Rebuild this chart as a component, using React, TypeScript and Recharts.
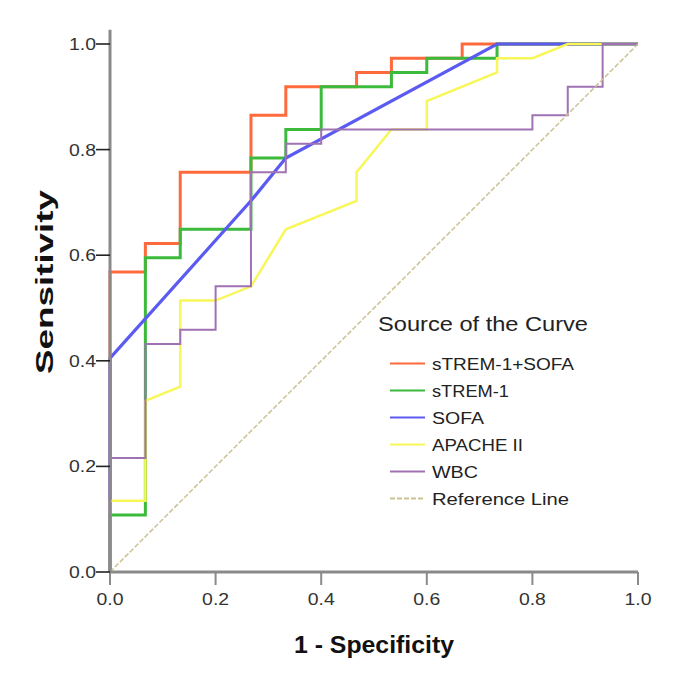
import React from "react";
import { LineChart, Line, XAxis, YAxis, Legend } from "recharts";

const FONT = "'Liberation Sans', Arial, sans-serif";

const TICKS = [0, 0.2, 0.4, 0.6, 0.8, 1.0];

// ROC points (1 - specificity, sensitivity)
const stremSofaFpr = [0, 0, 0.067, 0.067, 0.133, 0.133, 0.267, 0.267, 0.333, 0.333, 0.467, 0.467, 0.533, 0.533, 0.667, 0.667, 1.0];
const stremSofaSens = [0, 0.568, 0.568, 0.622, 0.622, 0.757, 0.757, 0.865, 0.865, 0.919, 0.919, 0.946, 0.946, 0.973, 0.973, 1.0, 1.0];

const stremFpr = [0, 0, 0.067, 0.067, 0.133, 0.133, 0.267, 0.267, 0.333, 0.333, 0.4, 0.4, 0.533, 0.533, 0.6, 0.6, 0.733, 0.733, 1.0];
const stremSens = [0, 0.108, 0.108, 0.595, 0.595, 0.649, 0.649, 0.784, 0.784, 0.838, 0.838, 0.919, 0.919, 0.946, 0.946, 0.973, 0.973, 1.0, 1.0];

const sofaFpr = [0, 0, 0.267, 0.333, 0.733, 1.0];
const sofaSens = [0, 0.405, 0.703, 0.784, 1.0, 1.0];

const apacheFpr = [0, 0, 0.067, 0.067, 0.133, 0.133, 0.2, 0.267, 0.333, 0.467, 0.467, 0.533, 0.6, 0.6, 0.733, 0.733, 0.8, 0.867, 1.0];
const apacheSens = [0, 0.135, 0.135, 0.324, 0.351, 0.514, 0.514, 0.541, 0.649, 0.703, 0.757, 0.838, 0.838, 0.892, 0.946, 0.973, 0.973, 1.0, 1.0];

const wbcFpr = [0, 0, 0.067, 0.067, 0.133, 0.133, 0.2, 0.2, 0.267, 0.267, 0.333, 0.333, 0.4, 0.4, 0.8, 0.8, 0.867, 0.867, 0.933, 0.933, 1.0];
const wbcSens = [0, 0.216, 0.216, 0.432, 0.432, 0.459, 0.459, 0.541, 0.541, 0.757, 0.757, 0.811, 0.811, 0.838, 0.838, 0.865, 0.865, 0.919, 0.919, 1.0, 1.0];

const refFpr = [0, 1];
const refSens = [0, 1];

const toPoints = (xs: number[], ys: number[]) => xs.map((x, i) => ({ fpr: x, sens: ys[i] }));

const SERIES = [
  { name: "sTREM-1+SOFA", data: toPoints(stremSofaFpr, stremSofaSens), color: "#ff6a3d", width: 3, dash: undefined },
  { name: "sTREM-1", data: toPoints(stremFpr, stremSens), color: "#3cba3c", width: 3, dash: undefined },
  { name: "SOFA", data: toPoints(sofaFpr, sofaSens), color: "#5b5bf2", width: 3.2, dash: undefined },
  { name: "APACHE II", data: toPoints(apacheFpr, apacheSens), color: "#f7f75a", width: 2.5, dash: undefined },
  { name: "WBC", data: toPoints(wbcFpr, wbcSens), color: "#a072b4", width: 2, dash: undefined },
  { name: "Reference Line", data: toPoints(refFpr, refSens), color: "#cbc192", width: 1.5, dash: "5 2" },
];

// measured text widths of the legend entries
const LEGEND_WIDTH: Record<string, number> = {
  "sTREM-1+SOFA": 142,
  "sTREM-1": 77,
  SOFA: 52,
  "APACHE II": 91,
  WBC: 46,
  "Reference Line": 137,
};

const XTick = (props: any) => {
  const { x, y, payload } = props;
  return (
    <text x={x} y={y + 18} textAnchor="middle" fontSize={16} fontFamily={FONT} fill="#333"
      textLength={27} lengthAdjust="spacingAndGlyphs">
      {Number(payload.value).toFixed(1)}
    </text>
  );
};

const YTick = (props: any) => {
  const { x, y, payload } = props;
  return (
    <text x={x} y={y + 6} textAnchor="end" fontSize={16} fontFamily={FONT} fill="#333"
      textLength={27} lengthAdjust="spacingAndGlyphs">
      {Number(payload.value).toFixed(1)}
    </text>
  );
};

const renderLegend = (props: any) => {
  const payload: any[] = props.payload || [];
  const items = SERIES.map((s) => {
    const p = payload.find((e) => e.value === s.name);
    return { name: s.name, color: p?.color ?? s.color, dash: s.dash };
  });
  return (
    <svg width={270} height={215} style={{ display: "block" }}>
      <text x={10} y={33} fontSize={21} fontFamily={FONT} fill="#222" textLength={210} lengthAdjust="spacingAndGlyphs">
        Source of the Curve
      </text>
      {items.map((it, i) => {
        const cy = 65.5 + i * 27;
        return (
          <g key={it.name}>
            <line x1={22} x2={57} y1={cy} y2={cy} stroke={it.color} strokeWidth={2} strokeDasharray={it.dash} />
            <text x={64} y={cy + 6} fontSize={16} fontFamily={FONT} fill="#222"
              textLength={LEGEND_WIDTH[it.name]} lengthAdjust="spacingAndGlyphs">
              {it.name}
            </text>
          </g>
        );
      })}
    </svg>
  );
};

export default function App() {
  return (
    <div style={{ width: 669, height: 669, background: "#fff" }}>
      <LineChart width={669} height={669} margin={{ top: 21.74, right: 39, bottom: 75, left: 42 }}>
        <XAxis
          dataKey="fpr"
          type="number"
          domain={[0, 1]}
          ticks={TICKS}
          height={30}
          tickSize={13}
          tickMargin={2}
          axisLine={{ stroke: "#8a8a8a", strokeWidth: 3 }}
          tickLine={{ stroke: "#8a8a8a", strokeWidth: 2 }}
          tick={<XTick />}
          label={{
            content: (p: any) => {
              const vb = p.viewBox;
              return (
                <text x={vb.x + vb.width / 2} y={vb.y + 81} textAnchor="middle" fontSize={24} fontWeight="bold"
                  fontFamily={FONT} fill="#111" textLength={160} lengthAdjust="spacingAndGlyphs">
                  1 - Specificity
                </text>
              );
            },
          }}
        />
        <YAxis
          dataKey="sens"
          type="number"
          domain={[0, 1.027]}
          ticks={TICKS}
          width={60}
          tickSize={14}
          tickMargin={0}
          axisLine={{ stroke: "#8a8a8a", strokeWidth: 3 }}
          tickLine={{ stroke: "#222", strokeWidth: 1.6 }}
          tick={<YTick />}
          label={{
            content: (p: any) => {
              const vb = p.viewBox;
              const cx = vb.x + 3;
              const cy = 274;
              return (
                <text transform={`translate(${cx}, ${cy}) rotate(-90)`} textAnchor="middle" fontSize={24}
                  fontWeight="bold" fontFamily={FONT} fill="#111" textLength={184} lengthAdjust="spacingAndGlyphs">
                  Sensitivity
                </text>
              );
            },
          }}
        />
        {SERIES.map((s) => (
          <Line
            key={s.name}
            name={s.name}
            data={s.data}
            dataKey="sens"
            type="linear"
            stroke={s.color}
            strokeWidth={s.width}
            strokeDasharray={s.dash}
            dot={false}
            activeDot={false}
            isAnimationActive={false}
          />
        ))}
        <Legend
          layout="vertical"
          align="center"
          verticalAlign="middle"
          content={renderLegend}
          wrapperStyle={{ left: 360, top: 290, width: 270, height: 215 }}
        />
      </LineChart>
    </div>
  );
}
